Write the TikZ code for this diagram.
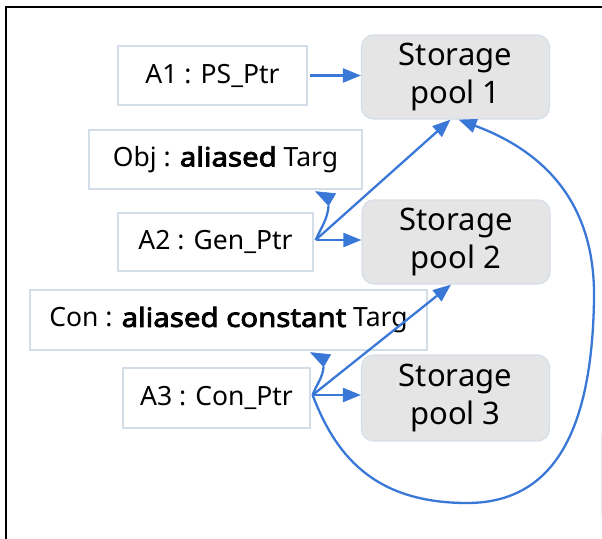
\documentclass[tikz,border=0pt]{standalone}
\usepackage{fontspec}
\setmainfont{Noto Sans}
\newfontfamily\heavy{Noto Sans}[FakeBold=3,FakeStretch=1.11]
\usetikzlibrary{arrows.meta,calc}
\definecolor{boxline}{HTML}{D3DDE8}
\definecolor{poolfill}{HTML}{E5E5E5}
\definecolor{poolline}{HTML}{D6DEE8}
\definecolor{link}{HTML}{3A78D8}
\newcommand{\kw}[1]{{\heavy #1}}
\tikzset{
  objbox/.style={draw=boxline, line width=1.2pt, fill=white, inner sep=0pt,
    font=\fontsize{26.5}{30}\selectfont},
  poolbox/.style={draw=poolline, line width=1.2pt, fill=poolfill, rounded corners=12pt,
    inner sep=0pt, minimum width=188pt, minimum height=84pt, align=center,
    font=\fontsize{31}{38}\selectfont},
  link/.style={draw=link, line width=2.3pt, -{Triangle[length=18pt,width=14pt]}},
  aliasline/.style={draw=link, line width=2.3pt},
  aliashead/.style={fill=link, draw=link, line width=0.6pt, line join=round},
}
\begin{document}
\begin{tikzpicture}[x=1pt,y=-1pt]
\useasboundingbox (0,0) rectangle (602,538);
% frame
\draw[line width=2pt] (6,540) -- (6,7) -- (604,7);
\draw[line width=1pt, black!8] (601,435) -- (601,515);

% storage pools
\node[poolbox] (sp1) at (455.5,77) {Storage\\pool 1};
\node[poolbox] (sp2) at (456,242) {Storage\\pool 2};
\node[poolbox, minimum height=86pt] (sp3) at (455.5,398) {Storage\\pool 3};

% objects
\node[objbox, minimum width=189pt, minimum height=59pt] (a1) at (212.5,75.5) {A1 : PS\_Ptr};
\node[objbox, minimum width=273pt, minimum height=59pt] (obj) at (225.5,159.5) {Obj : \kw{aliased} Targ};
\node[objbox, minimum width=195pt, minimum height=58pt] (a2) at (215.5,242) {A2 : Gen\_Ptr};
\node[objbox, minimum width=397pt, minimum height=60pt] (con) at (228.5,320) {Con : \kw{aliased constant} Targ};
\node[objbox, minimum width=187pt, minimum height=60pt] (a3) at (216.5,398) {A3 : Con\_Ptr};

% attachment points
\coordinate (a1o) at ($(a1.east)+(2,0)$);
\coordinate (a2o) at ($(a2.east)+(2,-2)$);
\coordinate (a3o) at ($(a3.east)+(2,-3)$);
\coordinate (sp1a) at ($(sp1.south)+(-5,0)$);
\coordinate (sp1b) at ($(sp1.south)+(3,0)$);
\coordinate (sp2a) at ($(sp2.south)+(-5,0)$);
\coordinate (objin) at ($(a2.east |- obj.south)+(12,3)$);
\coordinate (conin) at ($(a3.east |- con.south)+(10,3)$);
\coordinate (objtip) at ($(objin)+(3,13)$);
\coordinate (contip) at ($(conin)+(3,13)$);

% references
\draw[link] (a1o) -- (a1o -| sp1.west);
\draw[link] (a2o) -- (a2o -| sp2.west);
\draw[link] (a2o) -- (sp1a);
\draw[aliasline] (a2o) to[out=66,in=-95] (objtip);
\draw[aliashead] ($(objin)+(-10,-1)$) -- ($(objin)+(10,1)$) -- (objtip) -- cycle;
\draw[link] (a3o) -- (a3o -| sp3.west);
\draw[link] (a3o) -- (sp2a);
\draw[aliasline] (a3o) to[out=70,in=-95] (contip);
\draw[aliashead] ($(conin)+(-10,-1)$) -- ($(conin)+(10,1)$) -- (contip) -- cycle;
\draw[link] (a3o) .. controls ($(a3o)+(22,58)$) and (372,503) .. (467,503)
  .. controls (560,503) and (592,420) .. (594,300)
  .. controls (596,195) and (535,148) .. (sp1b);
\end{tikzpicture}
\end{document}
